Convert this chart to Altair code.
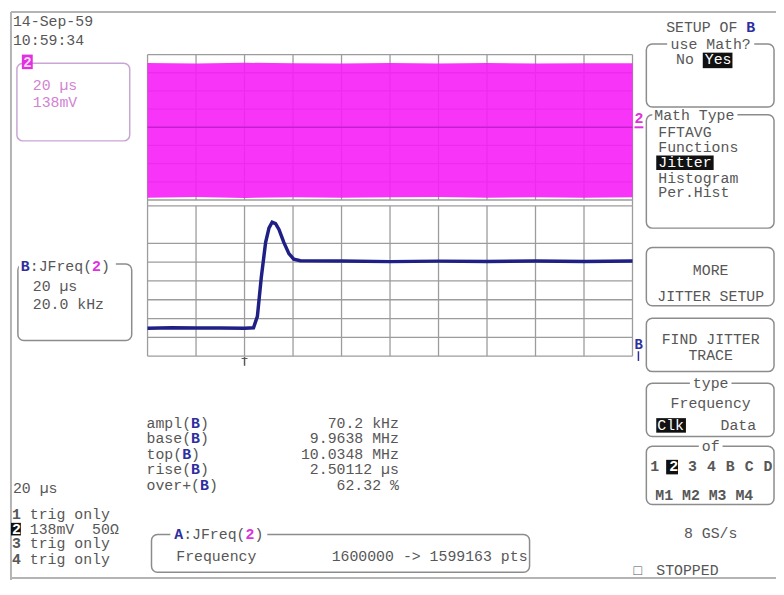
import re
import altair as alt
import pandas as pd

# ---------------- values read from the screen ----------------
# lower trace (math B = JFreq(2)): time in µs, frequency in MHz
trace_time_us = [0, 10, 20, 30, 40, 43.7, 45.3, 46.9, 48.7, 50.1, 51.4, 52.8, 54.2,
                 56.2, 58.3, 60.3, 63.0, 80, 100, 120, 140, 160, 180, 200]
trace_freq_mhz = [9.9636, 9.9640, 9.9637, 9.9639, 9.9636, 9.9640, 9.9762, 10.0175,
                  10.0550, 10.0705, 10.0764, 10.0750, 10.0688, 10.0550, 10.0430,
                  10.0371, 10.0354, 10.0352, 10.0345, 10.0350, 10.0346, 10.0351,
                  10.0347, 10.0352]
# upper trace (channel 2) envelope in mV
band_time_us = [0, 20, 40, 60, 80, 100, 120, 140, 160, 180, 200]
band_top_mv = [488, 484, 490, 486, 484, 488, 485, 489, 484, 487, 486]
band_bottom_mv = [-534, -530, -536, -531, -535, -532, -530, -534, -531, -535, -532]

time_per_div_us = 20
mv_per_div = 138
khz_per_div = 20.0
freq_center_mhz = 10.0139
n_xdiv, n_ydiv = 10, 8

meas_names = ["ampl", "base", "top", "rise", "over+"]
meas_values = ["70.2 kHz", "9.9638 MHz", "10.0348 MHz", "2.50112 µs", "62.32 %"]
chan_labels = ["1", "2", "3", "4"]
chan_texts = ["trig only", "138mV  50Ω", "trig only", "trig only"]
math_types = ["FFTAVG", "Functions", "Jitter", "Histogram", "Per.Hist"]
source_row1 = "1 2 3 4 B C D"
source_row2 = "M1 M2 M3 M4"

# ---------------- layout ----------------
W, H = 776, 575
SX = alt.Scale(domain=[8, 784], range=[0, W], nice=False, zero=False)
SY = alt.Scale(domain=[8, 595], range=[0, H], nice=False, zero=False)
def sx(v): return v - 8
def sy(v): return (v - 8) * H / 587

GREY = "#575757"; BLUE = "#2e2e9e"; MAG = "#e030e0"; PINKT = "#d283d2"
WHITE = "#ffffff"; BOXC = "#8c8c8c"; GRIDC = "#9c9c9c"; PINK = "#f81ef8"
FS = 15
CW = 9.0

texts, rules, rects, boxes = [], [], [], []

def T(x, y, parts, size=FS):
    if isinstance(parts, str):
        parts = [(parts, GREY)]
    cw = CW * size / FS
    off = 0
    for p in parts:
        s, c = p[0], p[1]
        b = p[2] if len(p) > 2 else False
        for m in re.finditer(r"\S+", s):
            texts.append(dict(x=x + (off + m.start()) * cw, y=y, text=m.group(), c=c, s=size, b=b))
        off += len(s)

def plen(parts):
    return len(parts) if isinstance(parts, str) else sum(len(p[0]) for p in parts)

def Tc(cx, y, parts, size=FS):
    T(cx - plen(parts) * CW * size / FS / 2, y, parts, size)

def Tr(rx, y, parts, size=FS):
    T(rx - plen(parts) * CW * size / FS, y, parts, size)

def R(x, y, x2, y2, c, w=1.5):
    rules.append(dict(x=x, y=y, x2=x2, y2=y2, c=c, w=w))

def F(x, y, x2, y2, c):
    rects.append(dict(x=x, y=y, x2=x2, y2=y2, c=c))

def B(x, y, x2, y2, c=BOXC):
    boxes.append(dict(x=x, y=y, x2=x2, y2=y2, c=c))

# grid
GX0, GX1 = 149, 639
UP0, UP1 = 53, 203
LO0, LO1 = 209, 364
grid = []
for k in range(n_xdiv + 1):
    gx = GX0 + k * (GX1 - GX0) / n_xdiv
    grid.append(dict(x=gx, y=UP0, x2=gx, y2=UP1))
    grid.append(dict(x=gx, y=LO0, x2=gx, y2=LO1))
for k in range(n_ydiv + 1):
    gy = UP0 + k * (UP1 - UP0) / n_ydiv
    grid.append(dict(x=GX0, y=gy, x2=GX1, y2=gy))
    if k != 1:
        gy2 = LO0 + k * (LO1 - LO0) / n_ydiv
        grid.append(dict(x=GX0, y=gy2, x2=GX1, y2=gy2))
grid.append(dict(x=GX0, y=UP1, x2=GX0, y2=LO0))
grid.append(dict(x=GX1, y=UP1, x2=GX1, y2=LO0))

# frame
R(11, 9, 784, 9, "#b4b4b4", 2)
R(11, 9, 11, 595, "#b4b4b4", 2)
R(11, 593, 784, 593, "#b4b4b4", 2)

# left column
T(13, 24, "14-Sep-59")
T(13, 43, "10:59:34")
B(17, 62, 131, 142, "#c9a6d3")
F(22, 53, 33, 68, MAG)
T(23.5, 66, [("2", "#ffd6ff", True)], size=14)
T(33, 90, [("20 µs", PINKT)])
T(33, 107, [("138mV", PINKT)])

B(18, 269, 133, 348)
F(19, 261, 117, 278, WHITE)
T(21, 276, [("B", BLUE, True), (":JFreq(", GREY), ("2", MAG, True), (")", GREY)])
T(33, 297, "20 µs")
T(33, 315, "20.0 kHz")

T(13, 505, "20 µs")
for i, yb in enumerate([532, 547, 562, 578]):
    if i == 1:
        F(11, yb - 11, 21, yb + 2, "#111111")
        T(12, yb, [(chan_labels[i], WHITE, True)])
    else:
        T(12, yb, [(chan_labels[i], GREY, True)])
    T(12 + 2 * CW, yb, chan_texts[i])

for i, yb in enumerate([438, 454, 470, 486, 502]):
    T(148, yb, [(meas_names[i] + "(", GREY), ("B", BLUE, True), (")", GREY)])
    Tr(403, yb, meas_values[i])

B(153, 548, 535, 587)
F(172, 540, 270, 556, WHITE)
T(176, 553, [("A", BLUE, True), (":JFreq(", GREY), ("2", MAG, True), (")", GREY)])
T(178, 575, "Frequency")
Tr(533, 575, "1600000 -> 1599163 pts")

# right menu
CX = 718
Tc(CX, 30, [("SETUP OF ", GREY), ("B", BLUE, True)])
B(653, 42, 782, 107)
F(674, 35, 762, 49, WHITE)
Tc(CX, 47, "use Math?")
T(683, 63, "No")
F(710, 51, 740, 67, "#111111")
T(712, 63, [("Yes", WHITE)])
B(653, 115, 782, 232)
F(659, 108, 745, 122, WHITE)
T(661, 120, "Math Type")
for i, yb in enumerate([138, 153, 169, 185, 200]):
    if math_types[i] == "Jitter":
        F(663, yb - 12, 667 + len(math_types[i]) * CW, yb + 3, "#111111")
        T(665, yb, [(math_types[i], WHITE)])
    else:
        T(665, yb, math_types[i])
B(653, 252, 782, 312)
Tc(CX, 280, "MORE")
Tc(CX, 307, "JITTER SETUP")
B(653, 325, 782, 380)
Tc(CX, 352, "FIND JITTER")
Tc(CX, 368, "TRACE")
B(653, 392, 782, 447)
F(697, 385, 739, 399, WHITE)
Tc(CX, 397, "type")
Tc(CX, 418, "Frequency")
F(663, 428, 693, 443, "#111111")
T(664, 440, [("Clk", WHITE)])
T(728, 440, "Data")
B(653, 457, 782, 517)
F(706, 450, 730, 464, WHITE)
Tc(CX, 462, "of")
F(673, 471, 685, 486, "#111111")
for j, ch in enumerate(source_row1):
    if ch != " ":
        T(657 + j * CW * 1.06, 483, [(ch, WHITE if j == 2 else GREY, True)])
T(662, 512, [(source_row2, GREY, True)])
Tc(CX, 552, "8 GS/s")
T(640, 590, [("□", GREY)], size=14)
T(663, 590, "STOPPED")

# trace markers
T(641, 124, [("2", MAG, True)])
R(641, 128, 650, 128, MAG, 2)
T(641, 357, [("B", BLUE, True)], size=14)
R(645, 359, 645, 369, BLUE, 1.5)
R(247, 365, 247, 374, GREY, 1.5)
R(244, 366.5, 250, 366.5, GREY, 1)

# ---------------- charts ----------------
def px(df):
    return dict(x=alt.X("x:Q", scale=SX, axis=None), x2="x2:Q",
                y=alt.Y("y:Q", scale=SY, axis=None), y2="y2:Q")

grid_layer = alt.Chart(pd.DataFrame(grid)).mark_rule(color=GRIDC, strokeWidth=1.3).encode(**px(None))

TX = alt.Scale(domain=[0, n_xdiv * time_per_div_us], range=[sx(GX0), sx(GX1)], nice=False, zero=False)
band_df = pd.DataFrame(dict(t=band_time_us, top=band_top_mv, bot=band_bottom_mv))
band_layer = alt.Chart(band_df).mark_area(color=PINK, opacity=0.9).encode(
    x=alt.X("t:Q", scale=TX, axis=None),
    y=alt.Y("top:Q", scale=alt.Scale(domain=[-n_ydiv / 2 * mv_per_div, n_ydiv / 2 * mv_per_div],
                                     range=[sy(UP1), sy(UP0)], nice=False, zero=False), axis=None),
    y2="bot:Q")

center_layer = alt.Chart(pd.DataFrame([dict(x=GX0, x2=GX1, y=(UP0 + UP1) / 2, y2=(UP0 + UP1) / 2)])).mark_rule(
    color="#a818c0", strokeWidth=1.5, opacity=0.6).encode(**px(None))

half = n_ydiv / 2 * khz_per_div / 1000
trace_df = pd.DataFrame(dict(t=trace_time_us, f=trace_freq_mhz))
trace_layer = alt.Chart(trace_df).mark_line(color="#1f1f86", strokeWidth=3.5).encode(
    x=alt.X("t:Q", scale=TX, axis=None),
    y=alt.Y("f:Q", scale=alt.Scale(domain=[freq_center_mhz - half, freq_center_mhz + half],
                                   range=[sy(LO1), sy(LO0)], nice=False, zero=False), axis=None))

rule_layer = alt.Chart(pd.DataFrame(rules)).mark_rule().encode(
    **px(None), color=alt.Color("c:N", scale=None), strokeWidth=alt.StrokeWidth("w:Q", scale=None))

box_layer = alt.Chart(pd.DataFrame(boxes)).mark_rect(fillOpacity=0, strokeWidth=1.5, cornerRadius=6).encode(
    **px(None), stroke=alt.Stroke("c:N", scale=None))

fill_layer = alt.Chart(pd.DataFrame(rects)).mark_rect().encode(
    **px(None), color=alt.Color("c:N", scale=None))

tdf = pd.DataFrame(texts)
def text_layer(df, bold):
    return alt.Chart(df).mark_text(font="Liberation Mono", align="left", baseline="alphabetic",
                                   fontWeight="bold" if bold else "normal").encode(
        x=alt.X("x:Q", scale=SX, axis=None), y=alt.Y("y:Q", scale=SY, axis=None),
        text="text:N", color=alt.Color("c:N", scale=None), size=alt.Size("s:Q", scale=None))

chart = alt.layer(
    grid_layer, band_layer, center_layer, trace_layer, rule_layer, box_layer, fill_layer,
    text_layer(tdf[~tdf.b], False), text_layer(tdf[tdf.b], True)
).resolve_scale(x="independent", y="independent").properties(
    width=W, height=H, padding=0, autosize=alt.AutoSizeParams(type="none"), background="white"
).configure_view(stroke=None)

chart.save("out.html", embed_options={"renderer": "svg", "actions": False})
